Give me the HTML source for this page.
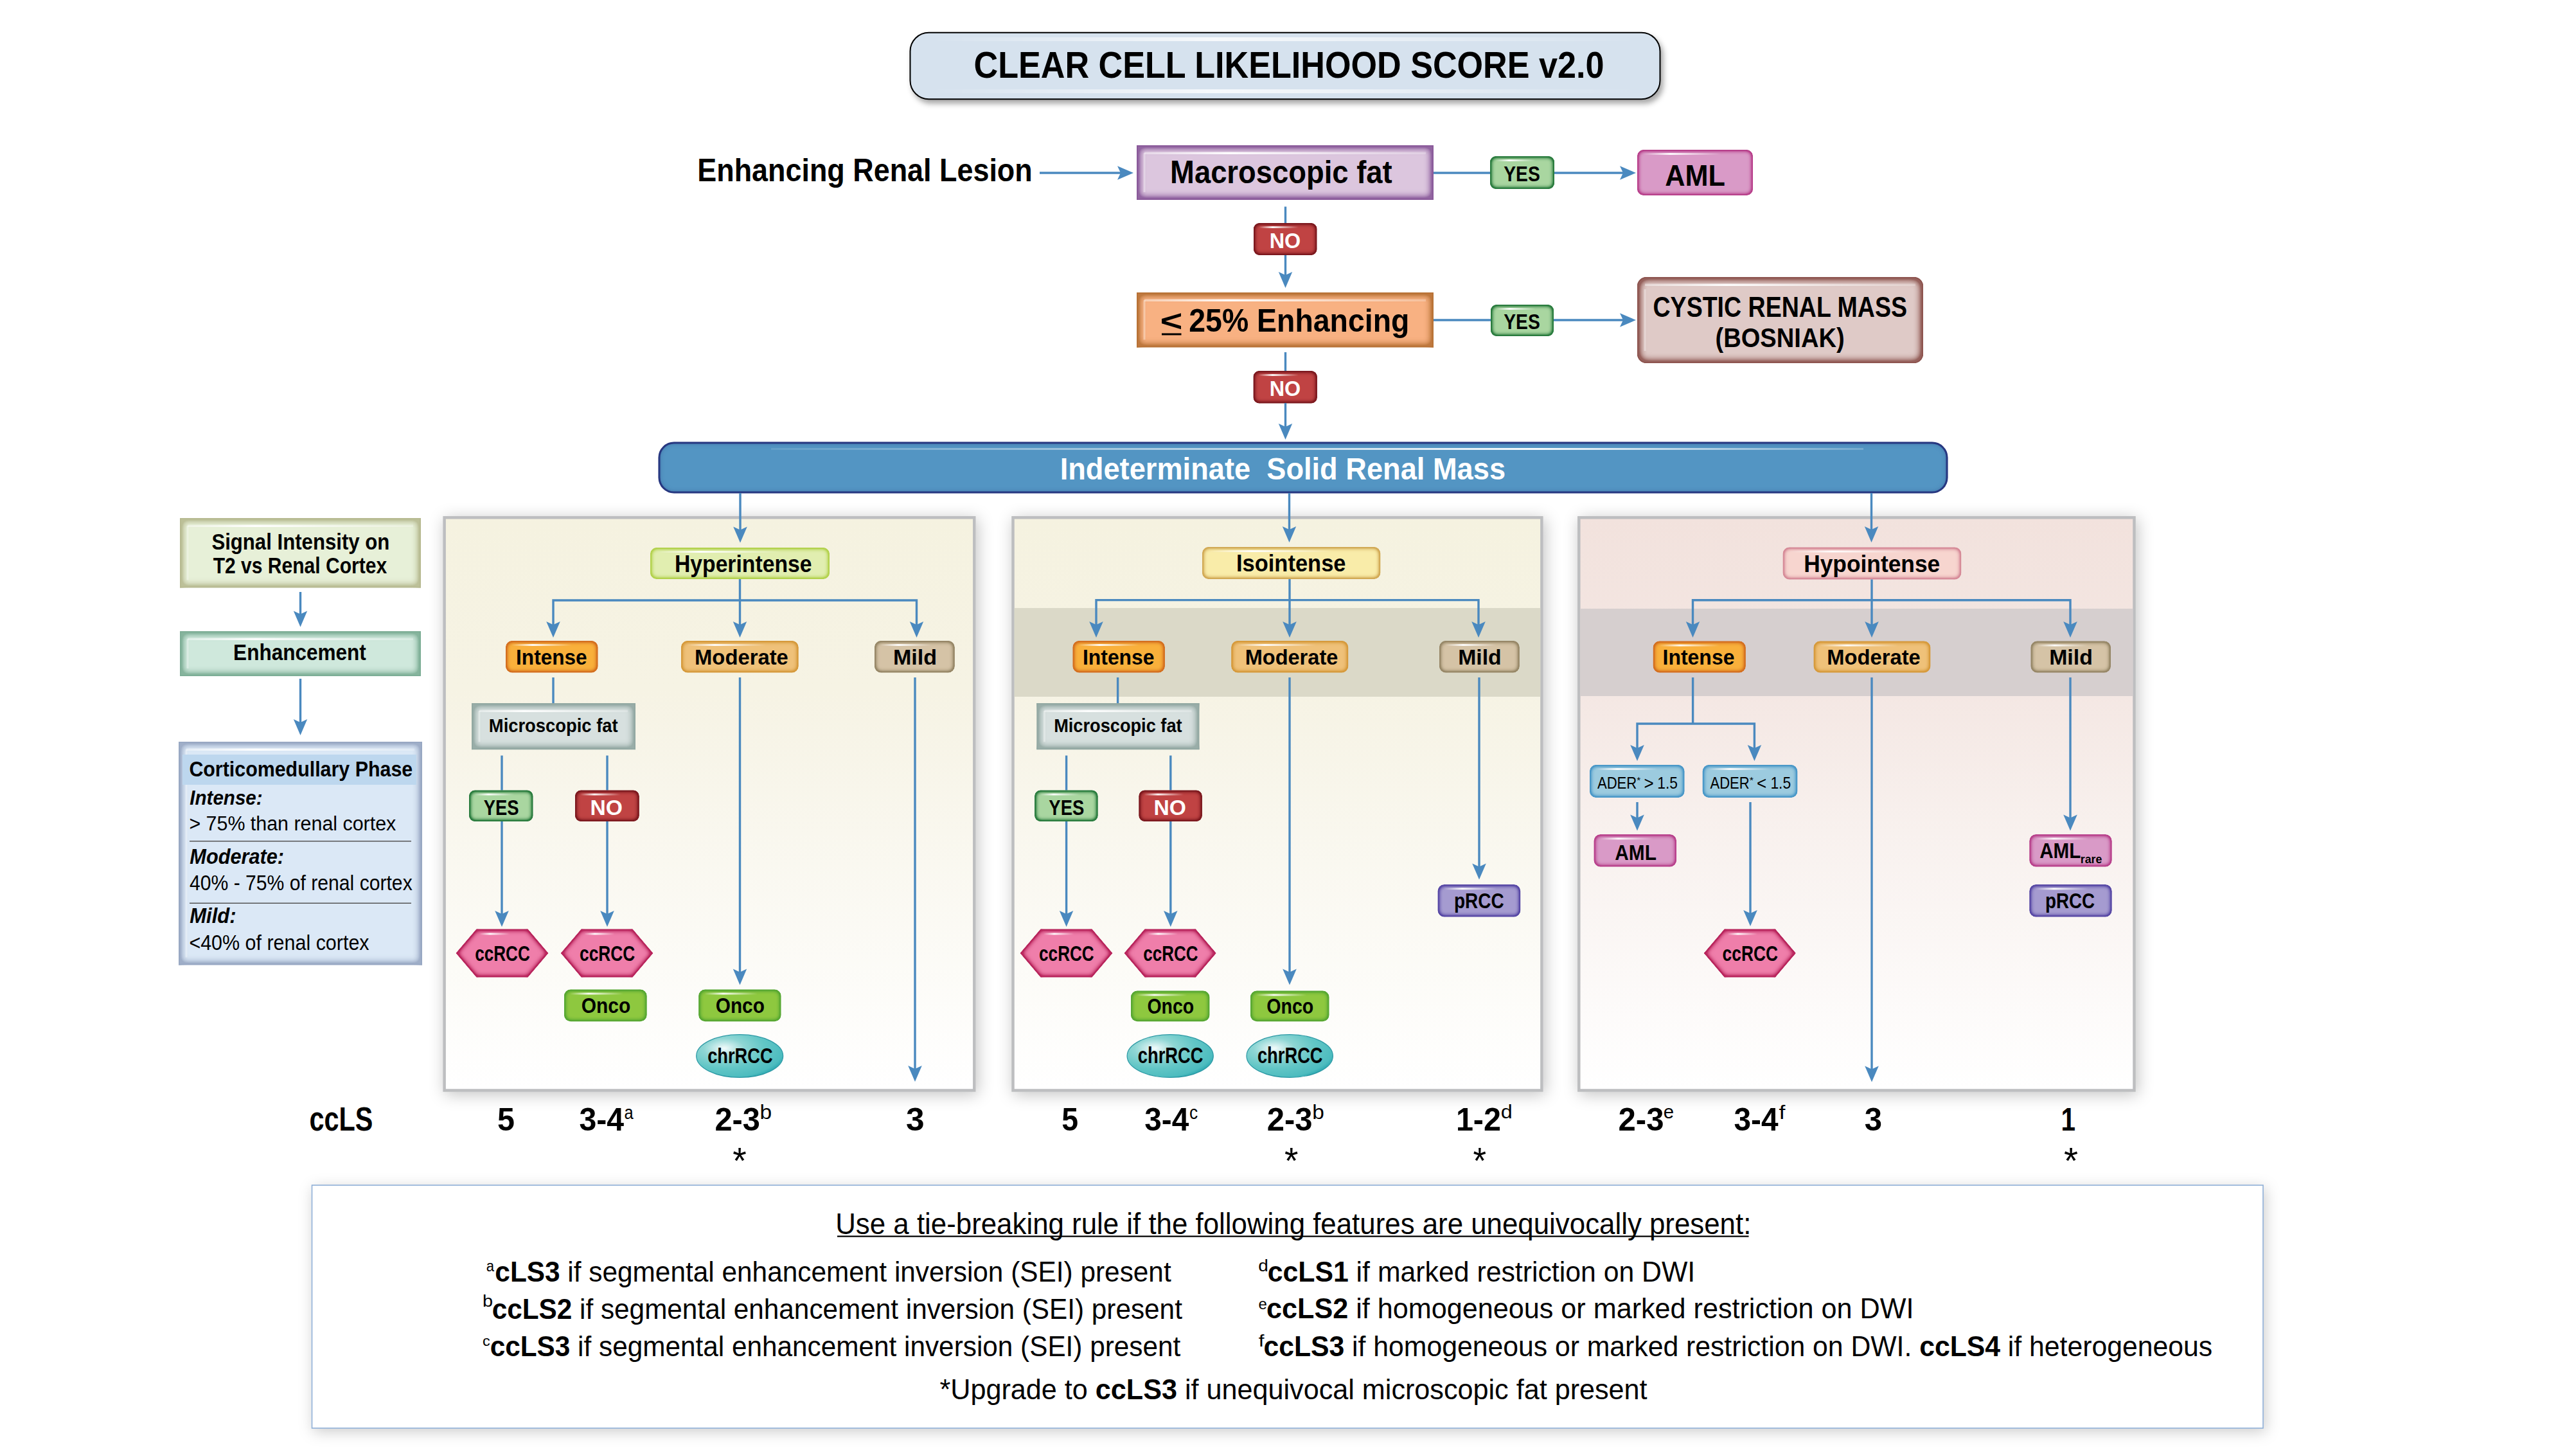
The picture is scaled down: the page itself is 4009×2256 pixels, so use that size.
<!DOCTYPE html>
<html><head><meta charset="utf-8"><title>Clear Cell Likelihood Score v2.0</title>
<style>html,body{margin:0;padding:0;background:#fff;overflow:hidden} svg{display:block} text{font-family:"Liberation Sans",sans-serif}</style>
</head><body>
<svg width="4009" height="2256" viewBox="0 0 4009 2256">
<defs>
<filter id="bev" x="-10%" y="-20%" width="120%" height="140%" color-interpolation-filters="sRGB">
 <feGaussianBlur in="SourceAlpha" stdDeviation="3" result="b"/>
 <feComposite in="SourceAlpha" in2="b" operator="out" result="e"/>
 <feFlood flood-color="#000" flood-opacity="0.32"/>
 <feComposite in2="e" operator="in" result="sh"/>
 <feMerge><feMergeNode in="SourceGraphic"/><feMergeNode in="sh"/></feMerge>
</filter>
<filter id="bevb" x="-5%" y="-20%" width="110%" height="140%" color-interpolation-filters="sRGB">
 <feGaussianBlur in="SourceAlpha" stdDeviation="4" result="b"/>
 <feComposite in="SourceAlpha" in2="b" operator="out" result="e"/>
 <feFlood flood-color="#1a2a70" flood-opacity="0.6"/>
 <feComposite in2="e" operator="in" result="sh"/>
 <feMerge><feMergeNode in="SourceGraphic"/><feMergeNode in="sh"/></feMerge>
</filter>
<filter id="dsh" x="-5%" y="-20%" width="110%" height="150%">
 <feGaussianBlur in="SourceAlpha" stdDeviation="4"/><feOffset dx="4" dy="6" result="o"/>
 <feFlood flood-color="#000" flood-opacity="0.35"/><feComposite in2="o" operator="in" result="s"/>
 <feMerge><feMergeNode in="s"/><feMergeNode in="SourceGraphic"/></feMerge>
</filter>
<filter id="psh" x="-10%" y="-10%" width="120%" height="120%">
 <feGaussianBlur in="SourceAlpha" stdDeviation="12"/><feOffset dx="3" dy="4" result="o"/>
 <feFlood flood-color="#000" flood-opacity="0.24"/><feComposite in2="o" operator="in" result="s"/>
 <feMerge><feMergeNode in="s"/><feMergeNode in="SourceGraphic"/></feMerge>
</filter>
<filter id="fsh" x="-3%" y="-10%" width="106%" height="125%">
 <feGaussianBlur in="SourceAlpha" stdDeviation="11"/><feOffset dx="3" dy="5" result="o"/>
 <feFlood flood-color="#000" flood-opacity="0.2"/><feComposite in2="o" operator="in" result="s"/>
 <feMerge><feMergeNode in="s"/><feMergeNode in="SourceGraphic"/></feMerge>
</filter>
<linearGradient id="hlg" x1="0" x2="1" y1="0" y2="0">
 <stop offset="0" stop-color="#fff" stop-opacity="0"/><stop offset="0.35" stop-color="#fff" stop-opacity="0.95"/><stop offset="1" stop-color="#fff" stop-opacity="0"/>
</linearGradient>
<linearGradient id="hlg2" x1="0" x2="1" y1="0" y2="0">
 <stop offset="0" stop-color="#fff" stop-opacity="0"/><stop offset="0.4" stop-color="#fff" stop-opacity="0.8"/><stop offset="1" stop-color="#fff" stop-opacity="0"/>
</linearGradient>
<linearGradient id="hlg3" x1="0" x2="1" y1="0" y2="0">
 <stop offset="0" stop-color="#fff" stop-opacity="0.1"/><stop offset="0.7" stop-color="#fff" stop-opacity="0.95"/><stop offset="1" stop-color="#fff" stop-opacity="0.2"/>
</linearGradient>
<linearGradient id="hlg4" x1="0" x2="1" y1="0" y2="0">
 <stop offset="0" stop-color="#fff" stop-opacity="0.4"/><stop offset="0.3" stop-color="#fff" stop-opacity="0.95"/><stop offset="0.7" stop-color="#fff" stop-opacity="0.5"/><stop offset="1" stop-color="#fff" stop-opacity="0.25"/>
</linearGradient>
<linearGradient id="pg1" x1="0" x2="0" y1="0" y2="1">
 <stop offset="0" stop-color="#f5f2e0"/><stop offset="0.3" stop-color="#f6f3e4"/><stop offset="0.55" stop-color="#f9f7ee"/><stop offset="1" stop-color="#ffffff"/>
</linearGradient>
<linearGradient id="pg3" x1="0" x2="0" y1="0" y2="1">
 <stop offset="0" stop-color="#f2e2dd"/><stop offset="0.3" stop-color="#f4e7e3"/><stop offset="0.55" stop-color="#f8f1ee"/><stop offset="1" stop-color="#ffffff"/>
</linearGradient>
<radialGradient id="chr" cx="0.32" cy="0.32" r="0.78">
 <stop offset="0" stop-color="#f2fbfb"/><stop offset="0.3" stop-color="#8fd6d4"/><stop offset="0.6" stop-color="#62c6c6"/><stop offset="0.88" stop-color="#4dbcbf"/><stop offset="1" stop-color="#22a3ac"/>
</radialGradient>
</defs>
<defs><filter id="bv0" x="-10%" y="-20%" width="120%" height="140%" color-interpolation-filters="sRGB">
 <feGaussianBlur in="SourceAlpha" stdDeviation="7" result="b"/>
 <feComposite in="SourceAlpha" in2="b" operator="arithmetic" k2="3" k3="-3" result="e"/>
 <feFlood flood-color="#8a5a9a" flood-opacity="0.9"/>
 <feComposite in2="e" operator="in" result="sh"/>
 <feMerge><feMergeNode in="SourceGraphic"/><feMergeNode in="sh"/></feMerge>
</filter>
<filter id="bv1" x="-10%" y="-20%" width="120%" height="140%" color-interpolation-filters="sRGB">
 <feGaussianBlur in="SourceAlpha" stdDeviation="3.5" result="b"/>
 <feComposite in="SourceAlpha" in2="b" operator="arithmetic" k2="3" k3="-3" result="e"/>
 <feFlood flood-color="#2a7c3e" flood-opacity="0.9"/>
 <feComposite in2="e" operator="in" result="sh"/>
 <feMerge><feMergeNode in="SourceGraphic"/><feMergeNode in="sh"/></feMerge>
</filter>
<filter id="bv2" x="-10%" y="-20%" width="120%" height="140%" color-interpolation-filters="sRGB">
 <feGaussianBlur in="SourceAlpha" stdDeviation="3.5" result="b"/>
 <feComposite in="SourceAlpha" in2="b" operator="arithmetic" k2="3" k3="-3" result="e"/>
 <feFlood flood-color="#b8418c" flood-opacity="0.9"/>
 <feComposite in2="e" operator="in" result="sh"/>
 <feMerge><feMergeNode in="SourceGraphic"/><feMergeNode in="sh"/></feMerge>
</filter>
<filter id="bv3" x="-10%" y="-20%" width="120%" height="140%" color-interpolation-filters="sRGB">
 <feGaussianBlur in="SourceAlpha" stdDeviation="3.5" result="b"/>
 <feComposite in="SourceAlpha" in2="b" operator="arithmetic" k2="3" k3="-3" result="e"/>
 <feFlood flood-color="#7e1a1f" flood-opacity="0.9"/>
 <feComposite in2="e" operator="in" result="sh"/>
 <feMerge><feMergeNode in="SourceGraphic"/><feMergeNode in="sh"/></feMerge>
</filter>
<filter id="bv4" x="-10%" y="-20%" width="120%" height="140%" color-interpolation-filters="sRGB">
 <feGaussianBlur in="SourceAlpha" stdDeviation="7" result="b"/>
 <feComposite in="SourceAlpha" in2="b" operator="arithmetic" k2="3" k3="-3" result="e"/>
 <feFlood flood-color="#b87236" flood-opacity="0.9"/>
 <feComposite in2="e" operator="in" result="sh"/>
 <feMerge><feMergeNode in="SourceGraphic"/><feMergeNode in="sh"/></feMerge>
</filter>
<filter id="bv5" x="-10%" y="-20%" width="120%" height="140%" color-interpolation-filters="sRGB">
 <feGaussianBlur in="SourceAlpha" stdDeviation="7" result="b"/>
 <feComposite in="SourceAlpha" in2="b" operator="arithmetic" k2="3" k3="-3" result="e"/>
 <feFlood flood-color="#8e5550" flood-opacity="0.9"/>
 <feComposite in2="e" operator="in" result="sh"/>
 <feMerge><feMergeNode in="SourceGraphic"/><feMergeNode in="sh"/></feMerge>
</filter>
<filter id="bv6" x="-10%" y="-20%" width="120%" height="140%" color-interpolation-filters="sRGB">
 <feGaussianBlur in="SourceAlpha" stdDeviation="3.5" result="b"/>
 <feComposite in="SourceAlpha" in2="b" operator="arithmetic" k2="3" k3="-3" result="e"/>
 <feFlood flood-color="#b3d24e" flood-opacity="0.9"/>
 <feComposite in2="e" operator="in" result="sh"/>
 <feMerge><feMergeNode in="SourceGraphic"/><feMergeNode in="sh"/></feMerge>
</filter>
<filter id="bv7" x="-10%" y="-20%" width="120%" height="140%" color-interpolation-filters="sRGB">
 <feGaussianBlur in="SourceAlpha" stdDeviation="3.5" result="b"/>
 <feComposite in="SourceAlpha" in2="b" operator="arithmetic" k2="3" k3="-3" result="e"/>
 <feFlood flood-color="#d46f1f" flood-opacity="0.9"/>
 <feComposite in2="e" operator="in" result="sh"/>
 <feMerge><feMergeNode in="SourceGraphic"/><feMergeNode in="sh"/></feMerge>
</filter>
<filter id="bv8" x="-10%" y="-20%" width="120%" height="140%" color-interpolation-filters="sRGB">
 <feGaussianBlur in="SourceAlpha" stdDeviation="3.5" result="b"/>
 <feComposite in="SourceAlpha" in2="b" operator="arithmetic" k2="3" k3="-3" result="e"/>
 <feFlood flood-color="#d69a3c" flood-opacity="0.9"/>
 <feComposite in2="e" operator="in" result="sh"/>
 <feMerge><feMergeNode in="SourceGraphic"/><feMergeNode in="sh"/></feMerge>
</filter>
<filter id="bv9" x="-10%" y="-20%" width="120%" height="140%" color-interpolation-filters="sRGB">
 <feGaussianBlur in="SourceAlpha" stdDeviation="3.5" result="b"/>
 <feComposite in="SourceAlpha" in2="b" operator="arithmetic" k2="3" k3="-3" result="e"/>
 <feFlood flood-color="#978767" flood-opacity="0.9"/>
 <feComposite in2="e" operator="in" result="sh"/>
 <feMerge><feMergeNode in="SourceGraphic"/><feMergeNode in="sh"/></feMerge>
</filter>
<filter id="bv10" x="-10%" y="-20%" width="120%" height="140%" color-interpolation-filters="sRGB">
 <feGaussianBlur in="SourceAlpha" stdDeviation="7" result="b"/>
 <feComposite in="SourceAlpha" in2="b" operator="arithmetic" k2="3" k3="-3" result="e"/>
 <feFlood flood-color="#93a8a2" flood-opacity="0.9"/>
 <feComposite in2="e" operator="in" result="sh"/>
 <feMerge><feMergeNode in="SourceGraphic"/><feMergeNode in="sh"/></feMerge>
</filter>
<filter id="bv11" x="-10%" y="-20%" width="120%" height="140%" color-interpolation-filters="sRGB">
 <feGaussianBlur in="SourceAlpha" stdDeviation="4.0" result="b"/>
 <feComposite in="SourceAlpha" in2="b" operator="arithmetic" k2="3" k3="-3" result="e"/>
 <feFlood flood-color="#b8255c" flood-opacity="0.9"/>
 <feComposite in2="e" operator="in" result="sh"/>
 <feMerge><feMergeNode in="SourceGraphic"/><feMergeNode in="sh"/></feMerge>
</filter>
<filter id="bv12" x="-10%" y="-20%" width="120%" height="140%" color-interpolation-filters="sRGB">
 <feGaussianBlur in="SourceAlpha" stdDeviation="3.5" result="b"/>
 <feComposite in="SourceAlpha" in2="b" operator="arithmetic" k2="3" k3="-3" result="e"/>
 <feFlood flood-color="#58a832" flood-opacity="0.9"/>
 <feComposite in2="e" operator="in" result="sh"/>
 <feMerge><feMergeNode in="SourceGraphic"/><feMergeNode in="sh"/></feMerge>
</filter>
<filter id="bv13" x="-10%" y="-20%" width="120%" height="140%" color-interpolation-filters="sRGB">
 <feGaussianBlur in="SourceAlpha" stdDeviation="3.5" result="b"/>
 <feComposite in="SourceAlpha" in2="b" operator="arithmetic" k2="3" k3="-3" result="e"/>
 <feFlood flood-color="#d2aa55" flood-opacity="0.9"/>
 <feComposite in2="e" operator="in" result="sh"/>
 <feMerge><feMergeNode in="SourceGraphic"/><feMergeNode in="sh"/></feMerge>
</filter>
<filter id="bv14" x="-10%" y="-20%" width="120%" height="140%" color-interpolation-filters="sRGB">
 <feGaussianBlur in="SourceAlpha" stdDeviation="3.5" result="b"/>
 <feComposite in="SourceAlpha" in2="b" operator="arithmetic" k2="3" k3="-3" result="e"/>
 <feFlood flood-color="#5848a6" flood-opacity="0.9"/>
 <feComposite in2="e" operator="in" result="sh"/>
 <feMerge><feMergeNode in="SourceGraphic"/><feMergeNode in="sh"/></feMerge>
</filter>
<filter id="bv15" x="-10%" y="-20%" width="120%" height="140%" color-interpolation-filters="sRGB">
 <feGaussianBlur in="SourceAlpha" stdDeviation="3.5" result="b"/>
 <feComposite in="SourceAlpha" in2="b" operator="arithmetic" k2="3" k3="-3" result="e"/>
 <feFlood flood-color="#d68b98" flood-opacity="0.9"/>
 <feComposite in2="e" operator="in" result="sh"/>
 <feMerge><feMergeNode in="SourceGraphic"/><feMergeNode in="sh"/></feMerge>
</filter>
<filter id="bv16" x="-10%" y="-20%" width="120%" height="140%" color-interpolation-filters="sRGB">
 <feGaussianBlur in="SourceAlpha" stdDeviation="3.5" result="b"/>
 <feComposite in="SourceAlpha" in2="b" operator="arithmetic" k2="3" k3="-3" result="e"/>
 <feFlood flood-color="#4a98c8" flood-opacity="0.9"/>
 <feComposite in2="e" operator="in" result="sh"/>
 <feMerge><feMergeNode in="SourceGraphic"/><feMergeNode in="sh"/></feMerge>
</filter>
<filter id="bv17" x="-10%" y="-20%" width="120%" height="140%" color-interpolation-filters="sRGB">
 <feGaussianBlur in="SourceAlpha" stdDeviation="7" result="b"/>
 <feComposite in="SourceAlpha" in2="b" operator="arithmetic" k2="3" k3="-3" result="e"/>
 <feFlood flood-color="#b7bb92" flood-opacity="0.9"/>
 <feComposite in2="e" operator="in" result="sh"/>
 <feMerge><feMergeNode in="SourceGraphic"/><feMergeNode in="sh"/></feMerge>
</filter>
<filter id="bv18" x="-10%" y="-20%" width="120%" height="140%" color-interpolation-filters="sRGB">
 <feGaussianBlur in="SourceAlpha" stdDeviation="7" result="b"/>
 <feComposite in="SourceAlpha" in2="b" operator="arithmetic" k2="3" k3="-3" result="e"/>
 <feFlood flood-color="#7dae96" flood-opacity="0.9"/>
 <feComposite in2="e" operator="in" result="sh"/>
 <feMerge><feMergeNode in="SourceGraphic"/><feMergeNode in="sh"/></feMerge>
</filter>
<filter id="bv19" x="-10%" y="-20%" width="120%" height="140%" color-interpolation-filters="sRGB">
 <feGaussianBlur in="SourceAlpha" stdDeviation="7" result="b"/>
 <feComposite in="SourceAlpha" in2="b" operator="arithmetic" k2="3" k3="-3" result="e"/>
 <feFlood flood-color="#98a8c4" flood-opacity="0.9"/>
 <feComposite in2="e" operator="in" result="sh"/>
 <feMerge><feMergeNode in="SourceGraphic"/><feMergeNode in="sh"/></feMerge>
</filter>
</defs>
<rect width="4009" height="2256" fill="#fff"/>
<rect x="1416.5" y="50.8" width="1167" height="103.5" rx="29" fill="#d6e2ee" stroke="#000" stroke-width="2" filter="url(#dsh)"/>
<rect x="1450" y="58" width="1100" height="6" fill="url(#hlg2)"/>
<rect x="1450" y="139" width="1100" height="6" fill="url(#hlg2)"/>
<line x1="1618.0" y1="269.0" x2="1749.0" y2="269.0" stroke="#4a89bf" stroke-width="3.4"/><polygon points="1764.0,269.0 1739.0,258.2 1744.0,269.0 1739.0,279.8" fill="#4a89bf"/>
<rect x="1770.0" y="227.0" width="460.0" height="83.0" rx="0" fill="#dcc6de" stroke="#8a5a9a" stroke-width="2" filter="url(#bv0)"/><path d="M1781.0,299.0 V238.0" fill="none" stroke="#fff" stroke-opacity="0.35" stroke-width="3"/><rect x="1781.0" y="236.5" width="438.0" height="3.5" fill="url(#hlg4)"/>
<line x1="2231.0" y1="269.0" x2="2320.0" y2="269.0" stroke="#4a89bf" stroke-width="3.4"/>
<rect x="2320.0" y="244.0" width="98.0" height="49.0" rx="8" fill="#a9d6a0" stroke="#2a7c3e" stroke-width="2" filter="url(#bv1)"/><rect x="2327.0" y="248.0" width="63.0" height="3" fill="url(#hlg)"/>
<line x1="2419.0" y1="269.0" x2="2531.0" y2="269.0" stroke="#4a89bf" stroke-width="3.4"/><polygon points="2546.0,269.0 2521.0,258.2 2526.0,269.0 2521.0,279.8" fill="#4a89bf"/>
<rect x="2549.0" y="234.0" width="178.0" height="69.0" rx="9" fill="#d99ac7" stroke="#b8418c" stroke-width="2" filter="url(#bv2)"/><rect x="2557.0" y="238.0" width="121.5" height="3" fill="url(#hlg)"/>
<line x1="2000.5" y1="321.5" x2="2000.5" y2="347.0" stroke="#4a89bf" stroke-width="3.4"/>
<rect x="1952.0" y="348.0" width="96.5" height="48.0" rx="8" fill="#c04343" stroke="#7e1a1f" stroke-width="2" filter="url(#bv3)"/><rect x="1959.0" y="352.0" width="61.9" height="3" fill="url(#hlg)"/>
<line x1="2000.5" y1="397.0" x2="2000.5" y2="433.0" stroke="#4a89bf" stroke-width="3.4"/><polygon points="2000.5,448.0 1989.8,423.0 2000.5,428.0 2011.2,423.0" fill="#4a89bf"/>
<rect x="1770.0" y="456.0" width="460.0" height="83.5" rx="0" fill="#f8b182" stroke="#b87236" stroke-width="2" filter="url(#bv4)"/><path d="M1781.0,528.5 V467.0" fill="none" stroke="#fff" stroke-opacity="0.35" stroke-width="3"/><rect x="1781.0" y="465.5" width="438.0" height="3.5" fill="url(#hlg4)"/>
<rect x="1808" y="518.5" width="30.5" height="3" fill="#000"/>
<line x1="2231.0" y1="498.0" x2="2320.0" y2="498.0" stroke="#4a89bf" stroke-width="3.4"/>
<rect x="2321.0" y="475.0" width="96.0" height="47.0" rx="8" fill="#a9d6a0" stroke="#2a7c3e" stroke-width="2" filter="url(#bv1)"/><rect x="2328.0" y="479.0" width="61.5" height="3" fill="url(#hlg)"/>
<line x1="2418.0" y1="498.0" x2="2531.0" y2="498.0" stroke="#4a89bf" stroke-width="3.4"/><polygon points="2546.0,498.0 2521.0,487.2 2526.0,498.0 2521.0,508.8" fill="#4a89bf"/>
<rect x="2549.0" y="432.0" width="443.0" height="132.0" rx="13" fill="#dfcac7" stroke="#8e5550" stroke-width="2" filter="url(#bv5)"/><path d="M2560.0,546.0 V450.0" fill="none" stroke="#fff" stroke-opacity="0.35" stroke-width="3"/><rect x="2560.0" y="441.5" width="421.0" height="3.5" fill="url(#hlg4)"/>
<line x1="2000.5" y1="548.0" x2="2000.5" y2="577.0" stroke="#4a89bf" stroke-width="3.4"/>
<rect x="1951.6" y="578.0" width="97.2" height="48.5" rx="8" fill="#c04343" stroke="#7e1a1f" stroke-width="2" filter="url(#bv3)"/><rect x="1958.6" y="582.0" width="62.4" height="3" fill="url(#hlg)"/>
<line x1="2000.5" y1="627.0" x2="2000.5" y2="669.0" stroke="#4a89bf" stroke-width="3.4"/><polygon points="2000.5,684.0 1989.8,659.0 2000.5,664.0 2011.2,659.0" fill="#4a89bf"/>
<rect x="1026" y="689" width="2004" height="77" rx="23" fill="#5395c3" stroke="#2b3c86" stroke-width="3" filter="url(#bevb)"/>
<rect x="1200" y="697" width="1700" height="3" fill="url(#hlg3)"/>
<rect x="691.6" y="805.3" width="824.7" height="891.2" fill="url(#pg1)" stroke="#bdbec0" stroke-width="4.5" filter="url(#psh)"/>
<rect x="1576.5" y="805.3" width="822.9" height="891.2" fill="url(#pg1)" stroke="#bdbec0" stroke-width="4.5" filter="url(#psh)"/><rect x="1578.7" y="946.0" width="818.5" height="138.0" fill="#dbd9c8"/>
<rect x="2457.3" y="805.3" width="864.2" height="891.2" fill="url(#pg3)" stroke="#bdbec0" stroke-width="4.5" filter="url(#psh)"/><rect x="2459.5" y="947.0" width="859.8" height="136.0" fill="#d6cfcf"/>
<line x1="1152.0" y1="767.0" x2="1152.0" y2="829.5" stroke="#4a89bf" stroke-width="3.4"/><polygon points="1152.0,844.5 1141.2,819.5 1152.0,824.5 1162.8,819.5" fill="#4a89bf"/>
<rect x="1013.0" y="853.0" width="277.0" height="47.0" rx="9" fill="#e1eeb0" stroke="#b3d24e" stroke-width="2" filter="url(#bv6)"/><rect x="1021.0" y="857.0" width="195.8" height="3" fill="url(#hlg)"/>
<line x1="1151.5" y1="901.0" x2="1151.5" y2="934.0" stroke="#4a89bf" stroke-width="3.4"/>
<path d="M861.0,977.0 V934.0 H1426.5 V977.0" fill="none" stroke="#4a89bf" stroke-width="3.4" stroke-linejoin="miter"/><polygon points="861.0,992.0 850.2,967.0 861.0,972.0 871.8,967.0" fill="#4a89bf"/><polygon points="1426.5,992.0 1415.8,967.0 1426.5,972.0 1437.2,967.0" fill="#4a89bf"/>
<line x1="1151.5" y1="934.0" x2="1151.5" y2="977.0" stroke="#4a89bf" stroke-width="3.4"/><polygon points="1151.5,992.0 1140.8,967.0 1151.5,972.0 1162.2,967.0" fill="#4a89bf"/>
<rect x="788.0" y="998.0" width="141.5" height="47.5" rx="9" fill="#f9b03b" stroke="#d46f1f" stroke-width="2" filter="url(#bv7)"/><rect x="796.0" y="1002.0" width="94.1" height="3" fill="url(#hlg)"/>
<rect x="1061.0" y="998.0" width="180.6" height="47.5" rx="9" fill="#efc179" stroke="#d69a3c" stroke-width="2" filter="url(#bv8)"/><rect x="1069.0" y="1002.0" width="123.4" height="3" fill="url(#hlg)"/>
<rect x="1362.0" y="998.0" width="122.7" height="47.5" rx="9" fill="#d5c3a6" stroke="#978767" stroke-width="2" filter="url(#bv9)"/><rect x="1370.0" y="1002.0" width="80.0" height="3" fill="url(#hlg)"/>
<line x1="861.0" y1="1054.0" x2="861.0" y2="1094.0" stroke="#4a89bf" stroke-width="3.4"/>
<rect x="735.0" y="1095.0" width="253.0" height="70.3" rx="0" fill="#d7e0df" stroke="#93a8a2" stroke-width="2" filter="url(#bv10)"/><path d="M746.0,1154.3 V1106.0" fill="none" stroke="#fff" stroke-opacity="0.35" stroke-width="3"/><rect x="746.0" y="1104.5" width="231.0" height="3.5" fill="url(#hlg4)"/>
<line x1="781.0" y1="1175.5" x2="781.0" y2="1229.5" stroke="#4a89bf" stroke-width="3.4"/>
<line x1="945.0" y1="1175.5" x2="945.0" y2="1229.5" stroke="#4a89bf" stroke-width="3.4"/>
<rect x="731.0" y="1230.5" width="97.5" height="46.5" rx="8" fill="#a9d6a0" stroke="#2a7c3e" stroke-width="2" filter="url(#bv1)"/><rect x="738.0" y="1234.5" width="62.6" height="3" fill="url(#hlg)"/>
<rect x="896.0" y="1230.5" width="97.7" height="46.5" rx="8" fill="#c04343" stroke="#7e1a1f" stroke-width="2" filter="url(#bv3)"/><rect x="903.0" y="1234.5" width="62.8" height="3" fill="url(#hlg)"/>
<line x1="781.0" y1="1278.0" x2="781.0" y2="1427.0" stroke="#4a89bf" stroke-width="3.4"/><polygon points="781.0,1442.0 770.2,1417.0 781.0,1422.0 791.8,1417.0" fill="#4a89bf"/>
<line x1="945.0" y1="1278.0" x2="945.0" y2="1427.0" stroke="#4a89bf" stroke-width="3.4"/><polygon points="945.0,1442.0 934.2,1417.0 945.0,1422.0 955.8,1417.0" fill="#4a89bf"/>
<polygon points="711.0,1483.0 742.0,1446.5 821.0,1446.5 852.0,1483.0 821.0,1519.5 742.0,1519.5" fill="#ef7eaa" stroke="#b8255c" stroke-width="2" filter="url(#bv11)"/><rect x="746.0" y="1451.5" width="47.4" height="3" fill="url(#hlg)"/>
<polygon points="874.2,1483.0 905.2,1446.5 984.0,1446.5 1015.0,1483.0 984.0,1519.5 905.2,1519.5" fill="#ef7eaa" stroke="#b8255c" stroke-width="2" filter="url(#bv11)"/><rect x="909.2" y="1451.5" width="47.3" height="3" fill="url(#hlg)"/>
<rect x="879.0" y="1540.5" width="126.6" height="47.8" rx="9" fill="#8ec83f" stroke="#58a832" stroke-width="2" filter="url(#bv12)"/><rect x="887.0" y="1544.5" width="83.0" height="3" fill="url(#hlg)"/>
<line x1="1151.5" y1="1054.0" x2="1151.5" y2="1520.0" stroke="#4a89bf" stroke-width="3.4"/>
<polygon points="1151.5,1532.6 1140.8,1507.6 1151.5,1512.6 1162.2,1507.6" fill="#4a89bf"/>
<rect x="1088.3" y="1540.5" width="126.2" height="47.8" rx="9" fill="#8ec83f" stroke="#58a832" stroke-width="2" filter="url(#bv12)"/><rect x="1096.3" y="1544.5" width="82.7" height="3" fill="url(#hlg)"/>
<ellipse cx="1151.2" cy="1643.0" rx="67.5" ry="33.4" fill="url(#chr)" stroke="#2a98a4" stroke-width="1.2"/>
<line x1="1424.0" y1="1054.0" x2="1424.0" y2="1670.0" stroke="#4a89bf" stroke-width="3.4"/>
<polygon points="1424.0,1683.0 1413.2,1658.0 1424.0,1663.0 1434.8,1658.0" fill="#4a89bf"/>
<line x1="2006.5" y1="767.0" x2="2006.5" y2="829.0" stroke="#4a89bf" stroke-width="3.4"/><polygon points="2006.5,844.0 1995.8,819.0 2006.5,824.0 2017.2,819.0" fill="#4a89bf"/>
<rect x="1872.0" y="852.0" width="275.3" height="48.0" rx="9" fill="#f9eca9" stroke="#d2aa55" stroke-width="2" filter="url(#bv13)"/><rect x="1880.0" y="856.0" width="194.5" height="3" fill="url(#hlg)"/>
<line x1="2007.0" y1="901.0" x2="2007.0" y2="933.6" stroke="#4a89bf" stroke-width="3.4"/>
<path d="M1706.0,977.0 V933.6 H2301.0 V977.0" fill="none" stroke="#4a89bf" stroke-width="3.4" stroke-linejoin="miter"/><polygon points="1706.0,992.0 1695.2,967.0 1706.0,972.0 1716.8,967.0" fill="#4a89bf"/><polygon points="2301.0,992.0 2290.2,967.0 2301.0,972.0 2311.8,967.0" fill="#4a89bf"/>
<line x1="2007.0" y1="933.6" x2="2007.0" y2="977.0" stroke="#4a89bf" stroke-width="3.4"/><polygon points="2007.0,992.0 1996.2,967.0 2007.0,972.0 2017.8,967.0" fill="#4a89bf"/>
<rect x="1670.5" y="998.0" width="141.3" height="47.5" rx="9" fill="#f9b03b" stroke="#d46f1f" stroke-width="2" filter="url(#bv7)"/><rect x="1678.5" y="1002.0" width="94.0" height="3" fill="url(#hlg)"/>
<rect x="1917.3" y="998.0" width="179.9" height="47.5" rx="9" fill="#efc179" stroke="#d69a3c" stroke-width="2" filter="url(#bv8)"/><rect x="1925.3" y="1002.0" width="122.9" height="3" fill="url(#hlg)"/>
<rect x="2241.0" y="998.0" width="122.7" height="47.5" rx="9" fill="#d5c3a6" stroke="#978767" stroke-width="2" filter="url(#bv9)"/><rect x="2249.0" y="1002.0" width="80.0" height="3" fill="url(#hlg)"/>
<line x1="1739.6" y1="1054.0" x2="1739.6" y2="1094.0" stroke="#4a89bf" stroke-width="3.4"/>
<rect x="1614.4" y="1095.0" width="251.1" height="70.3" rx="0" fill="#d7e0df" stroke="#93a8a2" stroke-width="2" filter="url(#bv10)"/><path d="M1625.4,1154.3 V1106.0" fill="none" stroke="#fff" stroke-opacity="0.35" stroke-width="3"/><rect x="1625.4" y="1104.5" width="229.1" height="3.5" fill="url(#hlg4)"/>
<line x1="1659.6" y1="1175.5" x2="1659.6" y2="1229.5" stroke="#4a89bf" stroke-width="3.4"/>
<line x1="1821.8" y1="1175.5" x2="1821.8" y2="1229.5" stroke="#4a89bf" stroke-width="3.4"/>
<rect x="1611.2" y="1230.5" width="96.4" height="46.5" rx="8" fill="#a9d6a0" stroke="#2a7c3e" stroke-width="2" filter="url(#bv1)"/><rect x="1618.2" y="1234.5" width="61.8" height="3" fill="url(#hlg)"/>
<rect x="1773.4" y="1230.5" width="96.4" height="46.5" rx="8" fill="#c04343" stroke="#7e1a1f" stroke-width="2" filter="url(#bv3)"/><rect x="1780.4" y="1234.5" width="61.8" height="3" fill="url(#hlg)"/>
<line x1="1659.6" y1="1278.0" x2="1659.6" y2="1427.0" stroke="#4a89bf" stroke-width="3.4"/><polygon points="1659.6,1442.0 1648.8,1417.0 1659.6,1422.0 1670.3,1417.0" fill="#4a89bf"/>
<line x1="1821.8" y1="1278.0" x2="1821.8" y2="1427.0" stroke="#4a89bf" stroke-width="3.4"/><polygon points="1821.8,1442.0 1811.0,1417.0 1821.8,1422.0 1832.5,1417.0" fill="#4a89bf"/>
<polygon points="1589.0,1483.0 1620.0,1446.5 1699.0,1446.5 1730.0,1483.0 1699.0,1519.5 1620.0,1519.5" fill="#ef7eaa" stroke="#b8255c" stroke-width="2" filter="url(#bv11)"/><rect x="1624.0" y="1451.5" width="47.4" height="3" fill="url(#hlg)"/>
<polygon points="1751.0,1483.0 1782.0,1446.5 1860.3,1446.5 1891.3,1483.0 1860.3,1519.5 1782.0,1519.5" fill="#ef7eaa" stroke="#b8255c" stroke-width="2" filter="url(#bv11)"/><rect x="1786.0" y="1451.5" width="47.0" height="3" fill="url(#hlg)"/>
<rect x="1761.0" y="1542.5" width="120.4" height="45.8" rx="9" fill="#8ec83f" stroke="#58a832" stroke-width="2" filter="url(#bv12)"/><rect x="1769.0" y="1546.5" width="78.3" height="3" fill="url(#hlg)"/>
<line x1="2007.0" y1="1054.0" x2="2007.0" y2="1520.0" stroke="#4a89bf" stroke-width="3.4"/>
<polygon points="2007.0,1532.6 1996.2,1507.6 2007.0,1512.6 2017.8,1507.6" fill="#4a89bf"/>
<rect x="1947.0" y="1542.5" width="120.5" height="45.8" rx="9" fill="#8ec83f" stroke="#58a832" stroke-width="2" filter="url(#bv12)"/><rect x="1955.0" y="1546.5" width="78.4" height="3" fill="url(#hlg)"/>
<ellipse cx="1821.2" cy="1643.0" rx="67.1" ry="33.4" fill="url(#chr)" stroke="#2a98a4" stroke-width="1.2"/>
<ellipse cx="2007.2" cy="1643.0" rx="67.2" ry="33.4" fill="url(#chr)" stroke="#2a98a4" stroke-width="1.2"/>
<line x1="2302.0" y1="1054.0" x2="2302.0" y2="1356.0" stroke="#4a89bf" stroke-width="3.4"/>
<polygon points="2302.0,1368.5 2291.2,1343.5 2302.0,1348.5 2312.8,1343.5" fill="#4a89bf"/>
<rect x="2238.6" y="1377.2" width="126.6" height="48.2" rx="9" fill="#a59bd0" stroke="#5848a6" stroke-width="2" filter="url(#bv14)"/><rect x="2246.6" y="1381.2" width="82.9" height="3" fill="url(#hlg)"/>
<line x1="2912.5" y1="767.0" x2="2912.5" y2="829.0" stroke="#4a89bf" stroke-width="3.4"/><polygon points="2912.5,844.0 2901.8,819.0 2912.5,824.0 2923.2,819.0" fill="#4a89bf"/>
<rect x="2775.7" y="852.5" width="275.5" height="48.0" rx="9" fill="#f7d5cf" stroke="#d68b98" stroke-width="2" filter="url(#bv15)"/><rect x="2783.7" y="856.5" width="194.6" height="3" fill="url(#hlg)"/>
<line x1="2913.0" y1="901.5" x2="2913.0" y2="933.7" stroke="#4a89bf" stroke-width="3.4"/>
<path d="M2634.5,977.0 V933.7 H3222.0 V977.0" fill="none" stroke="#4a89bf" stroke-width="3.4" stroke-linejoin="miter"/><polygon points="2634.5,992.0 2623.8,967.0 2634.5,972.0 2645.2,967.0" fill="#4a89bf"/><polygon points="3222.0,992.0 3211.2,967.0 3222.0,972.0 3232.8,967.0" fill="#4a89bf"/>
<line x1="2913.0" y1="933.7" x2="2913.0" y2="977.0" stroke="#4a89bf" stroke-width="3.4"/><polygon points="2913.0,992.0 2902.2,967.0 2913.0,972.0 2923.8,967.0" fill="#4a89bf"/>
<rect x="2573.8" y="998.6" width="141.9" height="46.9" rx="9" fill="#f9b03b" stroke="#d46f1f" stroke-width="2" filter="url(#bv7)"/><rect x="2581.8" y="1002.6" width="94.4" height="3" fill="url(#hlg)"/>
<rect x="2823.6" y="998.6" width="179.7" height="46.9" rx="9" fill="#efc179" stroke="#d69a3c" stroke-width="2" filter="url(#bv8)"/><rect x="2831.6" y="1002.6" width="122.8" height="3" fill="url(#hlg)"/>
<rect x="3161.5" y="998.6" width="122.4" height="46.9" rx="9" fill="#d5c3a6" stroke="#978767" stroke-width="2" filter="url(#bv9)"/><rect x="3169.5" y="1002.6" width="79.8" height="3" fill="url(#hlg)"/>
<line x1="2634.6" y1="1054.0" x2="2634.6" y2="1126.0" stroke="#4a89bf" stroke-width="3.4"/>
<path d="M2548.0,1169.0 V1126.0 H2730.4 V1169.0" fill="none" stroke="#4a89bf" stroke-width="3.4" stroke-linejoin="miter"/><polygon points="2548.0,1184.0 2537.2,1159.0 2548.0,1164.0 2558.8,1159.0" fill="#4a89bf"/><polygon points="2730.4,1184.0 2719.7,1159.0 2730.4,1164.0 2741.2,1159.0" fill="#4a89bf"/>
<rect x="2475.0" y="1191.0" width="145.5" height="49.0" rx="9" fill="#9ccbdf" stroke="#4a98c8" stroke-width="2" filter="url(#bv16)"/><rect x="2483.0" y="1195.0" width="97.1" height="3" fill="url(#hlg)"/>
<rect x="2650.7" y="1191.0" width="145.6" height="49.0" rx="9" fill="#9ccbdf" stroke="#4a98c8" stroke-width="2" filter="url(#bv16)"/><rect x="2658.7" y="1195.0" width="97.2" height="3" fill="url(#hlg)"/>
<line x1="2548.0" y1="1248.0" x2="2548.0" y2="1277.5" stroke="#4a89bf" stroke-width="3.4"/><polygon points="2548.0,1292.5 2537.2,1267.5 2548.0,1272.5 2558.8,1267.5" fill="#4a89bf"/>
<rect x="2481.6" y="1299.3" width="126.4" height="48.2" rx="9" fill="#d99ac7" stroke="#b8418c" stroke-width="2" filter="url(#bv2)"/><rect x="2489.6" y="1303.3" width="82.8" height="3" fill="url(#hlg)"/>
<line x1="2724.0" y1="1248.0" x2="2724.0" y2="1428.0" stroke="#4a89bf" stroke-width="3.4"/>
<polygon points="2724.0,1441.0 2713.2,1416.0 2724.0,1421.0 2734.8,1416.0" fill="#4a89bf"/>
<polygon points="2653.2,1483.0 2684.2,1446.6 2762.4,1446.6 2793.4,1483.0 2762.4,1519.5 2684.2,1519.5" fill="#ef7eaa" stroke="#b8255c" stroke-width="2" filter="url(#bv11)"/><rect x="2688.2" y="1451.6" width="46.9" height="3" fill="url(#hlg)"/>
<line x1="2913.0" y1="1054.0" x2="2913.0" y2="1670.0" stroke="#4a89bf" stroke-width="3.4"/>
<polygon points="2913.0,1683.4 2902.2,1658.4 2913.0,1663.4 2923.8,1658.4" fill="#4a89bf"/>
<line x1="3222.0" y1="1054.0" x2="3222.0" y2="1279.0" stroke="#4a89bf" stroke-width="3.4"/>
<polygon points="3222.0,1292.5 3211.2,1267.5 3222.0,1272.5 3232.8,1267.5" fill="#4a89bf"/>
<rect x="3159.4" y="1299.3" width="126.2" height="48.2" rx="9" fill="#d99ac7" stroke="#b8418c" stroke-width="2" filter="url(#bv2)"/><rect x="3167.4" y="1303.3" width="82.6" height="3" fill="url(#hlg)"/>
<rect x="3159.4" y="1377.3" width="126.2" height="48.2" rx="9" fill="#a59bd0" stroke="#5848a6" stroke-width="2" filter="url(#bv14)"/><rect x="3167.4" y="1381.3" width="82.6" height="3" fill="url(#hlg)"/>
<rect x="281.0" y="807.0" width="373.0" height="106.5" rx="0" fill="#e7f0d8" stroke="#b7bb92" stroke-width="2" filter="url(#bv17)"/><path d="M292.0,902.5 V818.0" fill="none" stroke="#fff" stroke-opacity="0.35" stroke-width="3"/><rect x="292.0" y="816.5" width="351.0" height="3.5" fill="url(#hlg4)"/>
<line x1="467.5" y1="921.0" x2="467.5" y2="960.5" stroke="#4a89bf" stroke-width="3.4"/><polygon points="467.5,975.5 456.8,950.5 467.5,955.5 478.2,950.5" fill="#4a89bf"/>
<rect x="281.0" y="983.0" width="373.0" height="68.0" rx="0" fill="#cfe8dc" stroke="#7dae96" stroke-width="2" filter="url(#bv18)"/><path d="M292.0,1040.0 V994.0" fill="none" stroke="#fff" stroke-opacity="0.35" stroke-width="3"/><rect x="292.0" y="992.5" width="351.0" height="3.5" fill="url(#hlg4)"/>
<line x1="467.5" y1="1056.0" x2="467.5" y2="1129.0" stroke="#4a89bf" stroke-width="3.4"/><polygon points="467.5,1144.0 456.8,1119.0 467.5,1124.0 478.2,1119.0" fill="#4a89bf"/>
<rect x="279.0" y="1155.0" width="377.0" height="345.5" rx="0" fill="#dbe8f6" stroke="#98a8c4" stroke-width="2" filter="url(#bv19)"/><path d="M290.0,1489.5 V1166.0" fill="none" stroke="#fff" stroke-opacity="0.35" stroke-width="3"/><rect x="290.0" y="1164.5" width="355.0" height="3.5" fill="url(#hlg4)"/>
<rect x="284" y="1174" width="364" height="47" fill="#bdd7ee"/>
<rect x="295" y="1308" width="345" height="1.5" fill="#555"/>
<rect x="295" y="1404.5" width="345" height="1.5" fill="#555"/>
<rect x="485.5" y="1844" width="3036.5" height="378" fill="#fff" stroke="#8eaed6" stroke-width="1.6" filter="url(#fsh)"/>
<rect x="1303" y="1922.5" width="1418.5" height="2.2" fill="#000"/>

<text x="1515.52" y="121.00" font-size="57.97" textLength="980.97" lengthAdjust="spacingAndGlyphs" font-weight="bold" xml:space="preserve">CLEAR CELL LIKELIHOOD SCORE v2.0</text>
<text x="1085.31" y="281.70" font-size="50.87" textLength="521.43" lengthAdjust="spacingAndGlyphs" font-weight="bold" xml:space="preserve">Enhancing Renal Lesion</text>
<text x="1821.08" y="284.60" font-size="49.42" textLength="345.56" lengthAdjust="spacingAndGlyphs" font-weight="bold" xml:space="preserve">Macroscopic fat</text>
<text x="2340.22" y="281.80" font-size="33.48" textLength="56.53" lengthAdjust="spacingAndGlyphs" font-weight="bold" xml:space="preserve">YES</text>
<text x="2591.13" y="288.50" font-size="47.10" textLength="93.77" lengthAdjust="spacingAndGlyphs" font-weight="bold" xml:space="preserve">AML</text>
<text x="1975.66" y="386.00" font-size="34.06" textLength="48.57" lengthAdjust="spacingAndGlyphs" fill="#fff" font-weight="bold" xml:space="preserve">NO</text>
<text x="1805.61" y="515.28" font-size="46.36" textLength="34.92" lengthAdjust="spacingAndGlyphs" font-weight="bold" xml:space="preserve">&lt;</text>
<text x="1850.31" y="516.40" font-size="50.72" textLength="343.12" lengthAdjust="spacingAndGlyphs" font-weight="bold" xml:space="preserve">25% Enhancing</text>
<text x="2340.22" y="511.70" font-size="33.62" textLength="56.53" lengthAdjust="spacingAndGlyphs" font-weight="bold" xml:space="preserve">YES</text>
<text x="2572.50" y="492.50" font-size="43.62" textLength="395.48" lengthAdjust="spacingAndGlyphs" font-weight="bold" xml:space="preserve">CYSTIC RENAL MASS</text>
<text x="2669.48" y="539.80" font-size="41.74" textLength="201.16" lengthAdjust="spacingAndGlyphs" font-weight="bold" xml:space="preserve">(BOSNIAK)</text>
<text x="1975.66" y="616.20" font-size="34.06" textLength="48.57" lengthAdjust="spacingAndGlyphs" fill="#fff" font-weight="bold" xml:space="preserve">NO</text>
<text x="1649.69" y="745.70" font-size="48.84" textLength="693.35" lengthAdjust="spacingAndGlyphs" fill="#fff" font-weight="bold" xml:space="preserve">Indeterminate  Solid Renal Mass</text>
<text x="1049.98" y="889.50" font-size="37.83" textLength="213.50" lengthAdjust="spacingAndGlyphs" font-weight="bold" xml:space="preserve">Hyperintense</text>
<text x="803.11" y="1033.70" font-size="32.90" textLength="110.42" lengthAdjust="spacingAndGlyphs" font-weight="bold" xml:space="preserve">Intense</text>
<text x="1081.03" y="1033.70" font-size="32.90" textLength="145.83" lengthAdjust="spacingAndGlyphs" font-weight="bold" xml:space="preserve">Moderate</text>
<text x="1389.96" y="1033.70" font-size="32.90" textLength="68.12" lengthAdjust="spacingAndGlyphs" font-weight="bold" xml:space="preserve">Mild</text>
<text x="760.86" y="1138.90" font-size="28.99" textLength="200.72" lengthAdjust="spacingAndGlyphs" font-weight="bold" xml:space="preserve">Microscopic fat</text>
<text x="752.73" y="1268.00" font-size="33.33" textLength="54.89" lengthAdjust="spacingAndGlyphs" font-weight="bold" xml:space="preserve">YES</text>
<text x="918.48" y="1268.00" font-size="33.33" textLength="50.39" lengthAdjust="spacingAndGlyphs" fill="#fff" font-weight="bold" xml:space="preserve">NO</text>
<text x="739.22" y="1494.60" font-size="33.19" textLength="85.56" lengthAdjust="spacingAndGlyphs" font-weight="bold" xml:space="preserve">ccRCC</text>
<text x="902.01" y="1494.60" font-size="33.19" textLength="86.27" lengthAdjust="spacingAndGlyphs" font-weight="bold" xml:space="preserve">ccRCC</text>
<text x="904.80" y="1575.80" font-size="33.04" textLength="76.52" lengthAdjust="spacingAndGlyphs" font-weight="bold" xml:space="preserve">Onco</text>
<text x="1113.81" y="1575.80" font-size="33.04" textLength="76.01" lengthAdjust="spacingAndGlyphs" font-weight="bold" xml:space="preserve">Onco</text>
<text x="1101.18" y="1653.50" font-size="34.06" textLength="101.42" lengthAdjust="spacingAndGlyphs" font-weight="bold" xml:space="preserve">chrRCC</text>
<text x="1923.93" y="889.20" font-size="37.25" textLength="170.57" lengthAdjust="spacingAndGlyphs" font-weight="bold" xml:space="preserve">Isointense</text>
<text x="1684.99" y="1033.80" font-size="33.04" textLength="111.54" lengthAdjust="spacingAndGlyphs" font-weight="bold" xml:space="preserve">Intense</text>
<text x="1937.65" y="1033.80" font-size="33.04" textLength="144.70" lengthAdjust="spacingAndGlyphs" font-weight="bold" xml:space="preserve">Moderate</text>
<text x="2269.18" y="1033.80" font-size="33.04" textLength="67.48" lengthAdjust="spacingAndGlyphs" font-weight="bold" xml:space="preserve">Mild</text>
<text x="1640.17" y="1139.00" font-size="30.00" textLength="199.41" lengthAdjust="spacingAndGlyphs" font-weight="bold" xml:space="preserve">Microscopic fat</text>
<text x="1632.33" y="1268.00" font-size="33.33" textLength="54.99" lengthAdjust="spacingAndGlyphs" font-weight="bold" xml:space="preserve">YES</text>
<text x="1795.48" y="1268.00" font-size="33.33" textLength="50.39" lengthAdjust="spacingAndGlyphs" fill="#fff" font-weight="bold" xml:space="preserve">NO</text>
<text x="1617.12" y="1494.60" font-size="33.19" textLength="85.56" lengthAdjust="spacingAndGlyphs" font-weight="bold" xml:space="preserve">ccRCC</text>
<text x="1779.22" y="1494.60" font-size="33.19" textLength="85.26" lengthAdjust="spacingAndGlyphs" font-weight="bold" xml:space="preserve">ccRCC</text>
<text x="1785.46" y="1577.00" font-size="33.62" textLength="72.72" lengthAdjust="spacingAndGlyphs" font-weight="bold" xml:space="preserve">Onco</text>
<text x="1971.26" y="1577.00" font-size="33.62" textLength="73.02" lengthAdjust="spacingAndGlyphs" font-weight="bold" xml:space="preserve">Onco</text>
<text x="1770.78" y="1654.20" font-size="34.64" textLength="101.83" lengthAdjust="spacingAndGlyphs" font-weight="bold" xml:space="preserve">chrRCC</text>
<text x="1956.88" y="1654.20" font-size="34.64" textLength="101.73" lengthAdjust="spacingAndGlyphs" font-weight="bold" xml:space="preserve">chrRCC</text>
<text x="2262.92" y="1413.00" font-size="32.61" textLength="77.70" lengthAdjust="spacingAndGlyphs" font-weight="bold" xml:space="preserve">pRCC</text>
<text x="2807.18" y="890.00" font-size="37.54" textLength="212.04" lengthAdjust="spacingAndGlyphs" font-weight="bold" xml:space="preserve">Hypointense</text>
<text x="2587.58" y="1034.30" font-size="33.91" textLength="111.85" lengthAdjust="spacingAndGlyphs" font-weight="bold" xml:space="preserve">Intense</text>
<text x="2843.34" y="1034.30" font-size="33.91" textLength="145.42" lengthAdjust="spacingAndGlyphs" font-weight="bold" xml:space="preserve">Moderate</text>
<text x="3189.17" y="1034.30" font-size="33.91" textLength="67.69" lengthAdjust="spacingAndGlyphs" font-weight="bold" xml:space="preserve">Mild</text>
<text x="2485.90" y="1226.50" font-size="25.36" textLength="61.43" lengthAdjust="spacingAndGlyphs" xml:space="preserve">ADER</text>
<text x="2547.15" y="1218.54" font-size="15.28" textLength="6.00" lengthAdjust="spacingAndGlyphs" xml:space="preserve">*</text>
<text x="2558.46" y="1227.88" font-size="26.92" textLength="15.18" lengthAdjust="spacingAndGlyphs" xml:space="preserve">&gt;</text>
<text x="2579.30" y="1226.50" font-size="25.36" textLength="31.72" lengthAdjust="spacingAndGlyphs" xml:space="preserve">1.5</text>
<text x="2661.60" y="1226.50" font-size="25.36" textLength="61.03" lengthAdjust="spacingAndGlyphs" xml:space="preserve">ADER</text>
<text x="2722.84" y="1218.54" font-size="15.28" textLength="6.31" lengthAdjust="spacingAndGlyphs" xml:space="preserve">*</text>
<text x="2733.96" y="1227.88" font-size="26.92" textLength="15.18" lengthAdjust="spacingAndGlyphs" xml:space="preserve">&lt;</text>
<text x="2755.40" y="1226.50" font-size="25.36" textLength="31.72" lengthAdjust="spacingAndGlyphs" xml:space="preserve">1.5</text>
<text x="2513.30" y="1337.70" font-size="32.90" textLength="64.62" lengthAdjust="spacingAndGlyphs" font-weight="bold" xml:space="preserve">AML</text>
<text x="2680.61" y="1494.60" font-size="33.19" textLength="86.37" lengthAdjust="spacingAndGlyphs" font-weight="bold" xml:space="preserve">ccRCC</text>
<text x="3174.16" y="1334.80" font-size="33.04" textLength="64.11" lengthAdjust="spacingAndGlyphs" font-weight="bold" xml:space="preserve">AML</text>
<text x="3237.74" y="1342.51" font-size="18.55" textLength="33.53" lengthAdjust="spacingAndGlyphs" font-weight="bold" xml:space="preserve">rare</text>
<text x="3183.03" y="1413.00" font-size="32.46" textLength="77.18" lengthAdjust="spacingAndGlyphs" font-weight="bold" xml:space="preserve">pRCC</text>
<text x="329.38" y="854.90" font-size="34.20" textLength="276.92" lengthAdjust="spacingAndGlyphs" font-weight="bold" xml:space="preserve">Signal Intensity on</text>
<text x="331.70" y="892.30" font-size="34.49" textLength="270.49" lengthAdjust="spacingAndGlyphs" font-weight="bold" xml:space="preserve">T2 vs Renal Cortex</text>
<text x="363.11" y="1027.20" font-size="34.49" textLength="206.69" lengthAdjust="spacingAndGlyphs" font-weight="bold" xml:space="preserve">Enhancement</text>
<text x="294.38" y="1208.00" font-size="32.61" textLength="347.81" lengthAdjust="spacingAndGlyphs" font-weight="bold" xml:space="preserve">Corticomedullary Phase</text>
<text x="295.30" y="1251.50" font-size="31.45" textLength="113.37" lengthAdjust="spacingAndGlyphs" font-style="italic" font-weight="bold" xml:space="preserve">Intense:</text>
<text x="294.38" y="1292.00" font-size="31.88" textLength="321.92" lengthAdjust="spacingAndGlyphs" xml:space="preserve">&gt; 75% than renal cortex</text>
<text x="295.29" y="1344.00" font-size="32.61" textLength="146.83" lengthAdjust="spacingAndGlyphs" font-style="italic" font-weight="bold" xml:space="preserve">Moderate:</text>
<text x="295.00" y="1385.40" font-size="32.90" textLength="346.70" lengthAdjust="spacingAndGlyphs" xml:space="preserve">40% - 75% of renal cortex</text>
<text x="295.29" y="1436.00" font-size="32.46" textLength="72.34" lengthAdjust="spacingAndGlyphs" font-style="italic" font-weight="bold" xml:space="preserve">Mild:</text>
<text x="294.38" y="1477.70" font-size="32.90" textLength="280.22" lengthAdjust="spacingAndGlyphs" xml:space="preserve">&lt;40% of renal cortex</text>
<text x="481.56" y="1759.00" font-size="51.45" textLength="98.77" lengthAdjust="spacingAndGlyphs" font-weight="bold" xml:space="preserve">ccLS</text>
<text x="773.95" y="1758.70" font-size="50.43" textLength="26.92" lengthAdjust="spacingAndGlyphs" font-weight="bold" xml:space="preserve">5</text>
<text x="901.44" y="1758.70" font-size="50.43" textLength="69.68" lengthAdjust="spacingAndGlyphs" font-weight="bold" xml:space="preserve">3-4</text>
<text x="971.38" y="1740.71" font-size="29.09" textLength="14.12" lengthAdjust="spacingAndGlyphs" xml:space="preserve">a</text>
<text x="1112.44" y="1758.70" font-size="50.43" textLength="70.53" lengthAdjust="spacingAndGlyphs" font-weight="bold" xml:space="preserve">2-3</text>
<text x="1182.59" y="1740.69" font-size="31.35" textLength="18.62" lengthAdjust="spacingAndGlyphs" xml:space="preserve">b</text>
<text x="1140.15" y="1826.29" font-size="56.94" textLength="21.56" lengthAdjust="spacingAndGlyphs" xml:space="preserve">*</text>
<text x="1409.97" y="1758.70" font-size="50.43" textLength="28.59" lengthAdjust="spacingAndGlyphs" font-weight="bold" xml:space="preserve">3</text>
<text x="1652.21" y="1758.70" font-size="50.43" textLength="25.81" lengthAdjust="spacingAndGlyphs" font-weight="bold" xml:space="preserve">5</text>
<text x="1781.25" y="1758.70" font-size="50.43" textLength="68.97" lengthAdjust="spacingAndGlyphs" font-weight="bold" xml:space="preserve">3-4</text>
<text x="1851.05" y="1740.70" font-size="29.64" textLength="13.18" lengthAdjust="spacingAndGlyphs" xml:space="preserve">c</text>
<text x="1971.73" y="1758.70" font-size="50.43" textLength="70.84" lengthAdjust="spacingAndGlyphs" font-weight="bold" xml:space="preserve">2-3</text>
<text x="2042.29" y="1740.69" font-size="31.08" textLength="18.62" lengthAdjust="spacingAndGlyphs" xml:space="preserve">b</text>
<text x="1999.05" y="1826.29" font-size="56.94" textLength="21.46" lengthAdjust="spacingAndGlyphs" xml:space="preserve">*</text>
<text x="2265.89" y="1758.70" font-size="50.43" textLength="70.17" lengthAdjust="spacingAndGlyphs" font-weight="bold" xml:space="preserve">1-2</text>
<text x="2335.80" y="1740.31" font-size="29.46" textLength="18.01" lengthAdjust="spacingAndGlyphs" xml:space="preserve">d</text>
<text x="2292.47" y="1826.29" font-size="56.94" textLength="20.61" lengthAdjust="spacingAndGlyphs" xml:space="preserve">*</text>
<text x="2518.53" y="1758.70" font-size="50.43" textLength="70.95" lengthAdjust="spacingAndGlyphs" font-weight="bold" xml:space="preserve">2-3</text>
<text x="2588.72" y="1740.30" font-size="30.36" textLength="16.34" lengthAdjust="spacingAndGlyphs" xml:space="preserve">e</text>
<text x="2698.44" y="1758.70" font-size="50.43" textLength="69.07" lengthAdjust="spacingAndGlyphs" font-weight="bold" xml:space="preserve">3-4</text>
<text x="2768.44" y="1740.60" font-size="29.86" textLength="9.88" lengthAdjust="spacingAndGlyphs" xml:space="preserve">f</text>
<text x="2901.82" y="1758.70" font-size="50.43" textLength="27.25" lengthAdjust="spacingAndGlyphs" font-weight="bold" xml:space="preserve">3</text>
<text x="3207.57" y="1758.70" font-size="50.43" textLength="22.48" lengthAdjust="spacingAndGlyphs" font-weight="bold" xml:space="preserve">1</text>
<text x="3212.03" y="1826.29" font-size="56.94" textLength="22.09" lengthAdjust="spacingAndGlyphs" xml:space="preserve">*</text>
<text x="1300.23" y="1920.00" font-size="45.36" textLength="1425.12" lengthAdjust="spacingAndGlyphs" xml:space="preserve">Use a tie-breaking rule if the following features are unequivocally present:</text>
<text x="756.72" y="1978.45" font-size="24.55" textLength="12.30" lengthAdjust="spacingAndGlyphs" xml:space="preserve">a</text>
<text x="770.33" y="1993.50" font-size="44.93" textLength="1052.38" lengthAdjust="spacingAndGlyphs" xml:space="preserve"><tspan font-weight="bold">cLS3</tspan><tspan font-weight="normal"> if segmental enhancement inversion (SEI) present</tspan></text>
<text x="750.97" y="2032.74" font-size="25.81" textLength="16.08" lengthAdjust="spacingAndGlyphs" xml:space="preserve">b</text>
<text x="765.73" y="2051.80" font-size="44.93" textLength="1074.18" lengthAdjust="spacingAndGlyphs" xml:space="preserve"><tspan font-weight="bold">ccLS2</tspan><tspan font-weight="normal"> if segmental enhancement inversion (SEI) present</tspan></text>
<text x="751.06" y="2093.78" font-size="22.00" textLength="11.70" lengthAdjust="spacingAndGlyphs" xml:space="preserve">c</text>
<text x="762.73" y="2109.50" font-size="44.93" textLength="1074.58" lengthAdjust="spacingAndGlyphs" xml:space="preserve"><tspan font-weight="bold">ccLS3</tspan><tspan font-weight="normal"> if segmental enhancement inversion (SEI) present</tspan></text>
<text x="1958.28" y="1978.45" font-size="25.27" textLength="15.60" lengthAdjust="spacingAndGlyphs" xml:space="preserve">d</text>
<text x="1972.72" y="1994.00" font-size="44.93" textLength="665.54" lengthAdjust="spacingAndGlyphs" xml:space="preserve"><tspan font-weight="bold">ccLS1</tspan><tspan font-weight="normal"> if marked restriction on DWI</tspan></text>
<text x="1958.64" y="2036.57" font-size="23.45" textLength="13.32" lengthAdjust="spacingAndGlyphs" xml:space="preserve">e</text>
<text x="1971.11" y="2050.70" font-size="44.93" textLength="1007.38" lengthAdjust="spacingAndGlyphs" xml:space="preserve"><tspan font-weight="bold">ccLS2</tspan><tspan font-weight="normal"> if homogeneous or marked restriction on DWI</tspan></text>
<text x="1958.79" y="2094.80" font-size="25.75" textLength="8.75" lengthAdjust="spacingAndGlyphs" xml:space="preserve">f</text>
<text x="1966.42" y="2110.00" font-size="44.93" textLength="1476.66" lengthAdjust="spacingAndGlyphs" xml:space="preserve"><tspan font-weight="bold">ccLS3</tspan><tspan font-weight="normal"> if homogeneous or marked restriction on DWI. </tspan><tspan font-weight="bold">ccLS4</tspan><tspan font-weight="normal"> if heterogeneous</tspan></text>
<text x="1462.47" y="2177.00" font-size="44.93" textLength="1101.14" lengthAdjust="spacingAndGlyphs" xml:space="preserve"><tspan font-weight="normal">*Upgrade to </tspan><tspan font-weight="bold">ccLS3</tspan><tspan font-weight="normal"> if unequivocal microscopic fat present</tspan></text>
</svg>
</body></html>
